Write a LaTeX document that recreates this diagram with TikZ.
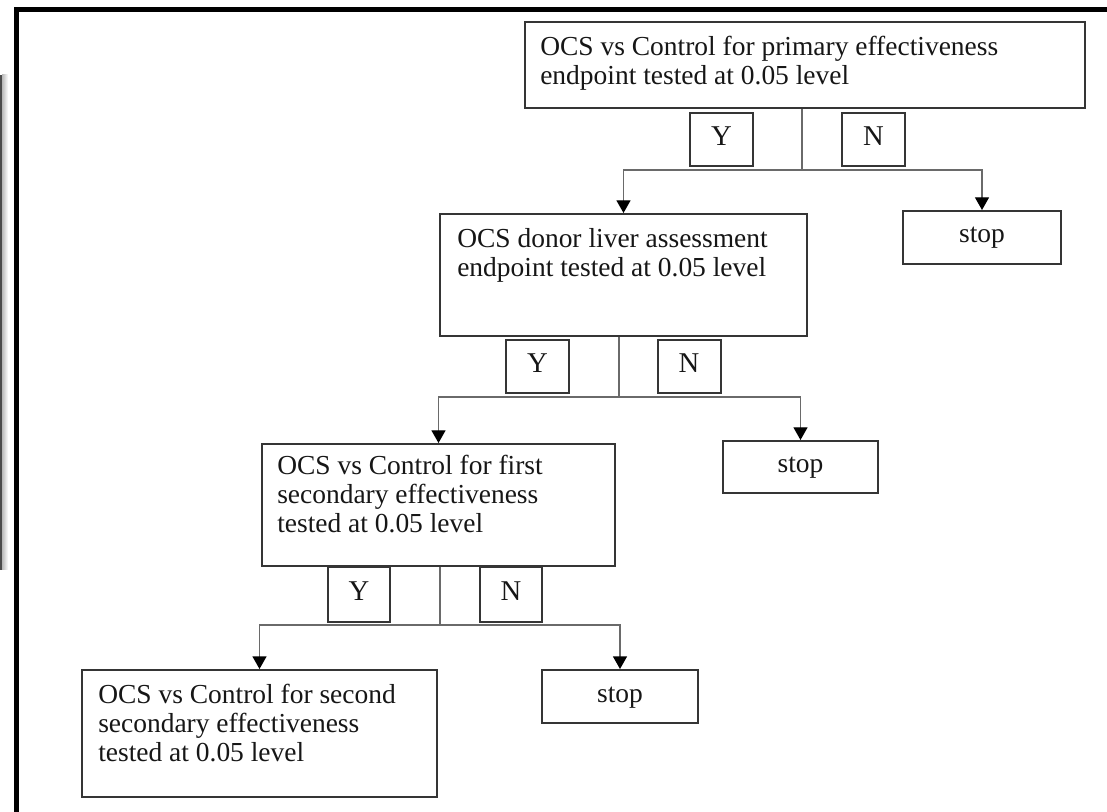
\documentclass[tikz,border=0pt]{standalone}
\usepackage{fontspec}
\setmainfont{Liberation Serif}
\usetikzlibrary{arrows.meta}
% zero-width rule that fixes the height of a text block's first line
\newcommand\firstlinelead{\rule{0pt}{20pt}}
\definecolor{boxline}{HTML}{353535}
\definecolor{linkline}{HTML}{6A6A6A}
\definecolor{inktext}{HTML}{161616}

\begin{document}
\begin{tikzpicture}[x=0.75pt,y=-0.75pt,
  font=\fontsize{20.6pt}{21.75pt}\selectfont,
  box/.style={draw=boxline,line width=1.5pt,inner sep=0pt,rectangle},
  txt/.style={anchor=north west,inner sep=0pt,align=left,yshift=20pt,text=inktext},
  tag/.style={box,text=inktext,minimum width=47.25pt,minimum height=39.75pt,
    font=\fontsize{21.5pt}{24pt}\selectfont,text height=14.5pt,text depth=6pt},
  stopbox/.style={box,text=inktext,text height=14pt,text depth=5.75pt},
  stem/.style={draw=linkline,line width=1pt},
  arr/.style={draw=linkline,line width=1pt,
    -{Triangle[width=10.5pt,length=9.5pt,fill=black,color=black]}}]

\useasboundingbox (0,0) rectangle (1107,812);

% page frame and side bar
\begin{scope}
  \clip (0,0) rectangle (1107,812);
  \draw[line width=3.75pt] (16,830) -- (16,10) -- (1130,10);
  \shade[left color=gray!55,right color=white] (2,75) rectangle (8,570);
  \fill[black!70] (0,75) rectangle (2,570);
\end{scope}

% decision boxes
\node[box,minimum width=420pt,minimum height=64.5pt] (b1) at (805,65) {};
\node[box,minimum width=275.25pt,minimum height=91.5pt] (b2) at (623.5,275) {};
\node[box,minimum width=264.75pt,minimum height=91.5pt] (b3) at (438.5,505) {};
\node[box,minimum width=266.25pt,minimum height=95.25pt] (b4) at (259.5,733.5) {};

\node[txt] (t1) at (540,55) {\firstlinelead OCS vs Control for primary effectiveness\\endpoint tested at 0.05 level};
\node[txt] (t2) at (457,247) {\firstlinelead OCS donor liver assessment\\endpoint tested at 0.05 level};
\node[txt] (t3) at (277,474) {\firstlinelead OCS vs Control for first\\secondary effectiveness\\tested at 0.05 level};
\node[txt] (t4) at (98,703) {\firstlinelead OCS vs Control for second\\secondary effectiveness\\tested at 0.05 level};

% stop boxes
\node[stopbox,minimum width=118.5pt,minimum height=39.75pt] (s1) at (982,237.5) {stop};
\node[stopbox,minimum width=116.25pt,minimum height=39pt] (s2) at (800.5,467) {stop};
\node[stopbox,minimum width=117pt,minimum height=39.75pt] (s3) at (620,696.5) {stop};

% Y / N labels
\node[tag] (y1) at (721.5,139.5) {Y};
\node[tag] (n1) at (873.5,139.5) {N};
\node[tag] (y2) at (537.5,366.5) {Y};
\node[tag] (n2) at (689,366.5) {N};
\node[tag,minimum width=46.5pt,minimum height=41.25pt] (y3) at (359,594.5) {Y};
\node[tag,minimum width=46.5pt,minimum height=41.25pt] (n3) at (511,594.5) {N};

% branch points
\coordinate (j1) at (802,170);
\coordinate (j2) at (619,397);
\coordinate (j3) at (440,625);

% connectors
\draw[stem] (j1 |- b1.south) -- (j1);
\draw[arr] (j1) -| (b2.north);
\draw[arr] (j1) -| (s1.north);

\draw[stem] (j2 |- b2.south) -- (j2);
\draw[arr] (j2) -| (b3.north);
\draw[arr] (j2) -| (s2.north);

\draw[stem] (j3 |- b3.south) -- (j3);
\draw[arr] (j3) -| (b4.north);
\draw[arr] (j3) -| (s3.north);

\end{tikzpicture}
\end{document}
